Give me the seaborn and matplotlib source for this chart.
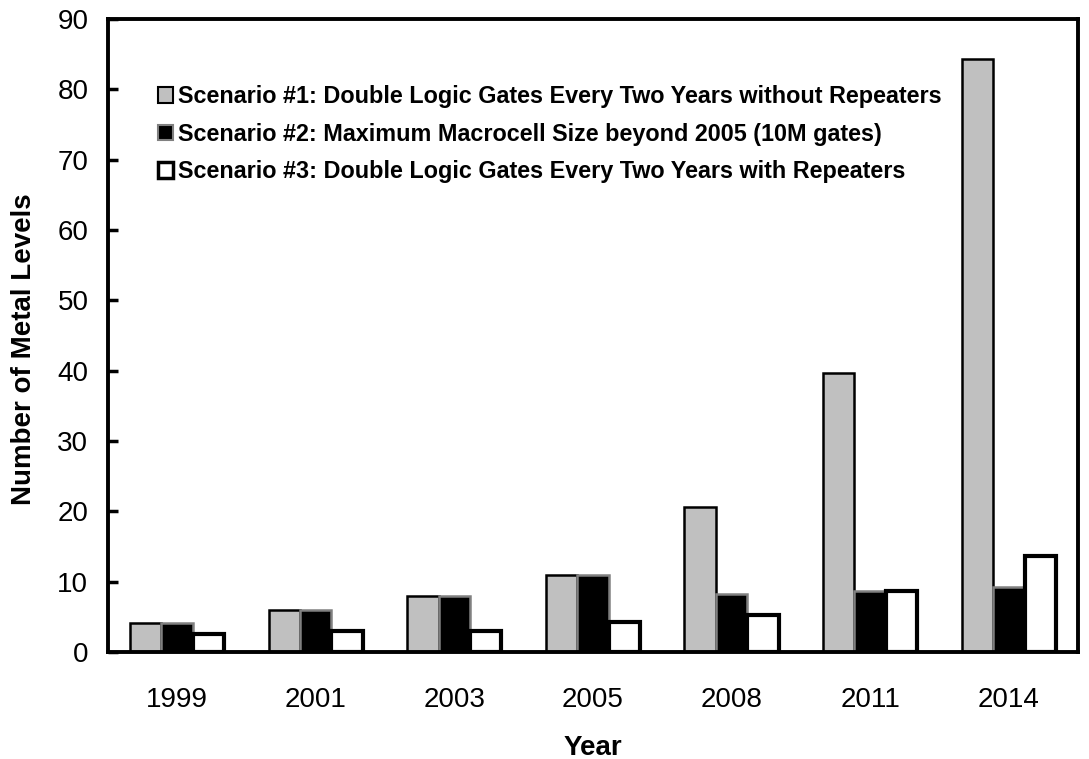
import matplotlib
matplotlib.use("Agg")
import matplotlib.pyplot as plt
from matplotlib.patches import Patch
import seaborn as sns
import pandas as pd

years = ["1999", "2001", "2003", "2005", "2008", "2011", "2014"]
scenario1 = [4.1, 5.9, 7.9, 11.0, 20.6, 39.7, 84.3]
scenario2 = [4.1, 5.9, 7.9, 11.0, 8.2, 8.7, 9.3]
scenario3 = [2.5, 3.0, 3.0, 4.2, 5.3, 8.7, 13.6]
series_names = [
    "Scenario #1: Double Logic Gates Every Two Years without Repeaters",
    "Scenario #2: Maximum Macrocell Size beyond 2005 (10M gates)",
    "Scenario #3: Double Logic Gates Every Two Years with Repeaters",
]

fills = ["#C0C0C0", "#000000", "#FFFFFF"]
edges = ["#000000", "#808080", "#000000"]
edge_widths = [1.8, 1.8, 3.0]

sns.set_theme(style="white")
plt.rcParams["font.family"] = ["Liberation Sans", "DejaVu Sans"]
plt.rcParams["text.color"] = "black"
plt.rcParams["axes.labelcolor"] = "black"
plt.rcParams["xtick.color"] = "black"
plt.rcParams["ytick.color"] = "black"

df = pd.DataFrame({
    "Year": years * 3,
    "Levels": scenario1 + scenario2 + scenario3,
    "Scenario": sum([[n] * len(years) for n in series_names], []),
})

fig = plt.figure(figsize=(10.89, 7.59), dpi=100)
ax = fig.add_axes([0.099, 0.141, 0.891, 0.834])

sns.barplot(data=df, x="Year", y="Levels", hue="Scenario", hue_order=series_names,
            order=years, palette=fills, width=0.68, gap=0, saturation=1,
            legend=False, ax=ax)

for cont, ec, lw in zip(ax.containers, edges, edge_widths):
    for bar in cont:
        bar.set_edgecolor(ec)
        bar.set_linewidth(lw)

ax.set_ylim(0, 90)
ax.set_xlim(-0.5, len(years) - 0.5)
ax.set_yticks(range(0, 91, 10))
ax.tick_params(axis="y", direction="in", length=7, width=2.5, labelsize=20, pad=14, left=True)
ax.tick_params(axis="x", length=0, labelsize=20, pad=25)
for s in ax.spines.values():
    s.set_visible(True)
    s.set_color("black")
    s.set_linewidth(2.8)

ax.set_xlabel("Year", fontsize=20, fontweight="bold", labelpad=16)
ax.set_ylabel("Number of Metal Levels", fontsize=20, fontweight="bold")
ax.yaxis.set_label_coords(-0.073, 0.478)

handles = [Patch(facecolor=f, edgecolor=e, linewidth=lw)
           for f, e, lw in zip(fills, edges, [1.5, 1.5, 2.5])]
ax.legend(handles, series_names, loc="upper left", bbox_to_anchor=(0.052, 0.895),
          frameon=False, prop={"weight": "bold", "size": 16.8},
          handlelength=0.65, handleheight=0.65, handletextpad=0.2,
          labelspacing=0.62, borderaxespad=0, borderpad=0)

fig.savefig("out.png", dpi=100)
